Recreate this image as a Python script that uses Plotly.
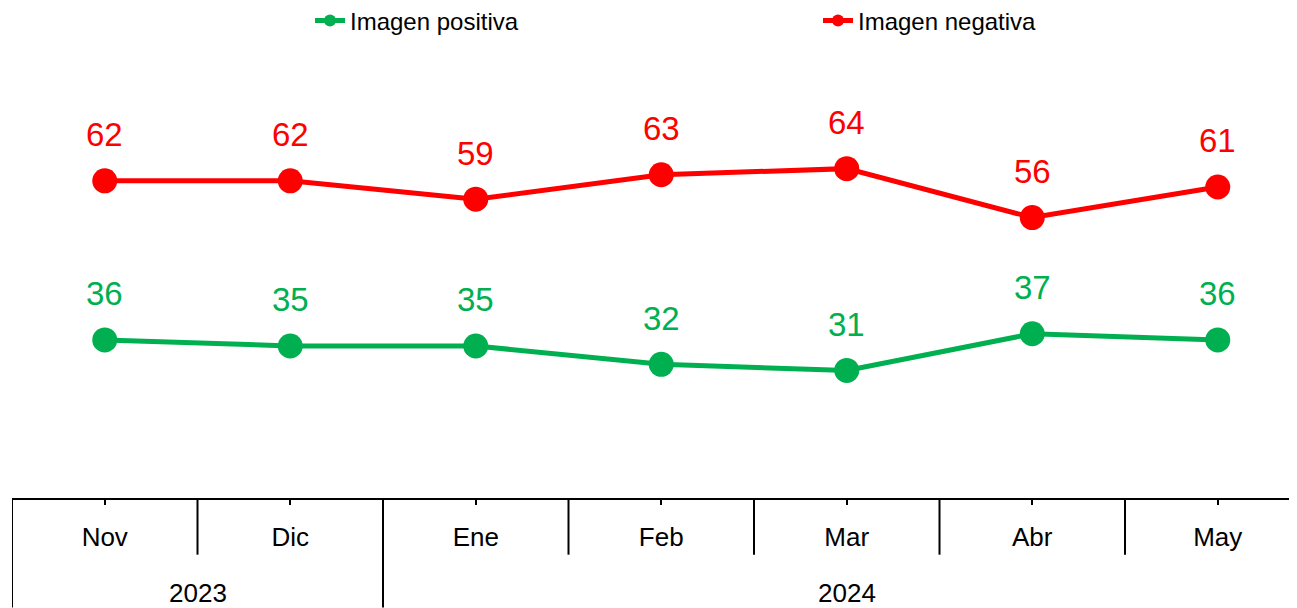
import plotly.graph_objects as go

months = ["Nov", "Dic", "Ene", "Feb", "Mar", "Abr", "May"]
years = ["2023", "2023", "2024", "2024", "2024", "2024", "2024"]
positiva = [36, 35, 35, 32, 31, 37, 36]
negativa = [62, 62, 59, 63, 64, 56, 61]

GREEN = "#00B050"
RED = "#FF0000"
FONT = "Liberation Sans, Arial, sans-serif"

# page has an 8px body margin; figure coordinates = page coordinates - 8
W, H = 1297, 600
M_T, M_B, M_L, M_R = 37, 110, 4, 8
plot_h = H - M_T - M_B
PX_PER_CAT = 185.5
PX_PER_UNIT = 6.15
ZERO_PX = 552.4  # pixel (figure coords) of value 0

fig = go.Figure()
for name, vals, col in [("Imagen positiva", positiva, GREEN), ("Imagen negativa", negativa, RED)]:
    fig.add_trace(go.Scatter(
        x=months, y=vals, name=name, mode="lines+markers",
        line=dict(color=col, width=5),
        marker=dict(color=col, size=25),
    ))
    for m, v in zip(months, vals):
        fig.add_annotation(x=m, y=v, text=str(v), showarrow=False,
                           xref="x", yref="y", yshift=46,
                           font=dict(size=33, color=col, family=FONT))

# dividers between months (short) and between years (full height)
n = len(months)
for i in range(-1, n - 1):
    boundary = i + 0.5
    new_year = (i == -1) or (years[i] != years[i + 1])
    y1 = -(H - M_T - plot_h) / plot_h if new_year else -57 / plot_h
    fig.add_shape(type="line", xref="x", yref="paper", x0=boundary, x1=boundary,
                  y0=0, y1=y1, line=dict(color="black", width=2))

# year labels centered on their groups
groups = {}
for i, yv in enumerate(years):
    groups.setdefault(yv, []).append(i)
for yv, idx in groups.items():
    start, end = idx[0] - 0.5, idx[-1] + 0.5
    fig.add_annotation(x=(start + end) / 2, y=-96 / plot_h, xref="x", yref="paper",
                       text=yv, showarrow=False, yanchor="middle",
                       font=dict(size=26, color="black", family=FONT))

fig.update_layout(
    width=W, height=H,
    margin=dict(t=M_T, b=M_B, l=M_L, r=M_R, pad=0),
    paper_bgcolor="white", plot_bgcolor="white",
    font=dict(family=FONT, color="black"),
    showlegend=True,
    legend=dict(orientation="h", xref="container", yref="container",
                x=302 / W, y=1 - 13 / H, xanchor="left", yanchor="middle",
                itemsizing="constant", entrywidth=463, entrywidthmode="pixels",
                font=dict(size=24, family=FONT, color="black"),
                bgcolor="rgba(0,0,0,0)"),
    xaxis=dict(type="category", categoryorder="array", categoryarray=months,
               range=[-0.5, -0.5 + (W - M_L - M_R) / PX_PER_CAT],
               showline=True, linecolor="black", linewidth=2,
               ticks="outside", ticklen=5, tickwidth=2, tickcolor="black",
               ticklabelstandoff=10,
               tickfont=dict(size=26, family=FONT, color="black"),
               showgrid=False, zeroline=False, fixedrange=True),
    yaxis=dict(range=[(ZERO_PX - (H - M_B)) / PX_PER_UNIT, (ZERO_PX - M_T) / PX_PER_UNIT],
               visible=False, showgrid=False, zeroline=False, fixedrange=True),
)

fig.write_html("out.html")
